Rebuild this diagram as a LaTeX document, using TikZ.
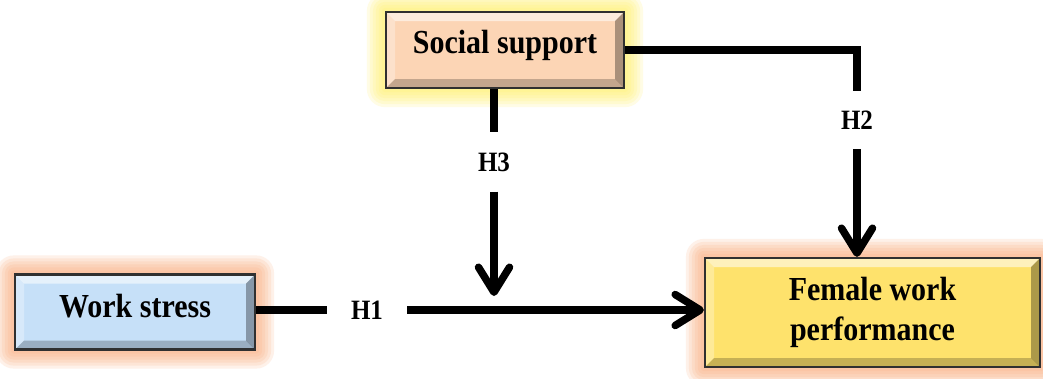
\documentclass[tikz,border=0pt]{standalone}
\usepackage{fontspec}
\usepackage{graphicx}
\setmainfont{Liberation Serif}
\usetikzlibrary{arrows.meta,backgrounds}

\definecolor{peach}{HTML}{FCD5B5}
\definecolor{lblue}{HTML}{C6E0F8}
\definecolor{gold}{HTML}{FEE26C}
\definecolor{glowY}{HTML}{FFF060}
\definecolor{glowO}{HTML}{FBA878}
\definecolor{edgecol}{HTML}{303030}

\newcommand\bw{9pt}
\newcommand\tall[1]{\scalebox{1}[1.12]{#1}}
\newcommand\myglow[2]{%
  \foreach \r in {18,15,12,9,6,3}{%
    \fill[#2,opacity=0.16,rounded corners=\r pt]
      ([xshift=-\r pt,yshift=\r pt]#1.north west) rectangle ([xshift=\r pt,yshift=-\r pt]#1.south east);
  }%
}

\tikzset{
  bevelbox/.style={draw=edgecol, line width=2.2pt, inner sep=0pt, align=center,
    font=\bfseries\fontsize{30}{36}\selectfont,
    path picture={
      \coordinate (pnw) at (path picture bounding box.north west);
      \coordinate (pne) at (path picture bounding box.north east);
      \coordinate (psw) at (path picture bounding box.south west);
      \coordinate (pse) at (path picture bounding box.south east);
      \fill[white,opacity=0.55] (pnw) -- (pne) -- ([xshift=-\bw,yshift=-\bw]pne) -- ([xshift=\bw,yshift=-\bw]pnw) -- cycle;
      \fill[white,opacity=0.3] (pnw) -- (psw) -- ([xshift=\bw,yshift=\bw]psw) -- ([xshift=\bw,yshift=-\bw]pnw) -- cycle;
      \fill[black,opacity=0.22] (psw) -- (pse) -- ([xshift=-\bw,yshift=\bw]pse) -- ([xshift=\bw,yshift=\bw]psw) -- cycle;
      \fill[black,opacity=0.32] (pne) -- (pse) -- ([xshift=-\bw,yshift=\bw]pse) -- ([xshift=-\bw,yshift=-\bw]pne) -- cycle;
    }},
  hlabel/.style={font=\bfseries\fontsize{25}{25}\selectfont, inner xsep=24pt, inner ysep=20pt},
  conn/.style={line width=7.5pt},
  arr/.style={conn, -{Straight Barb[length=25pt,width=31pt,round]}},
}

\begin{document}
\begin{tikzpicture}[x=1pt,y=-1pt]
\useasboundingbox (0,0) rectangle (1043,378);

\node[bevelbox, fill=peach, minimum width=238pt, minimum height=76pt, text height=20pt, text depth=14pt] (ss) at (505,50) {\tall{Social support}};
\node[bevelbox, fill=lblue, minimum width=240pt, minimum height=75pt, text height=20pt, text depth=10pt] (ws) at (135,312) {\tall{Work stress}};
\node[bevelbox, fill=gold, minimum width=335pt, minimum height=109pt] (fp) at (872.5,312.5) {\tall{\begin{tabular}{@{}c@{}}Female work\\performance\end{tabular}}};

\node[hlabel] (h1) at (367,310) {\tall{H1}};
\node[hlabel] (h3) at (494,162) {\tall{H3}};
\node[hlabel] (h2) at (857,120) {\tall{H2}};
\coordinate (h3end) at (494,296);

\begin{scope}[on background layer]
  \fill[white] (0,0) rectangle (1043,378);
  \myglow{ss}{glowY}
  \myglow{ws}{glowO}
  \myglow{fp}{glowO}
\end{scope}

\draw[conn] (ws.east |- h1) -- (h1.west);
\draw[arr] (h1.east) -- (h1 -| fp.west);
\draw[conn] (h3 |- ss.south) -- (h3.north);
\draw[arr] (h3.south) -- (h3end);
\draw[conn] (ss.east) -| (h2.north);
\draw[arr] (h2.south) -- (h2 |- fp.north);
\end{tikzpicture}
\end{document}
